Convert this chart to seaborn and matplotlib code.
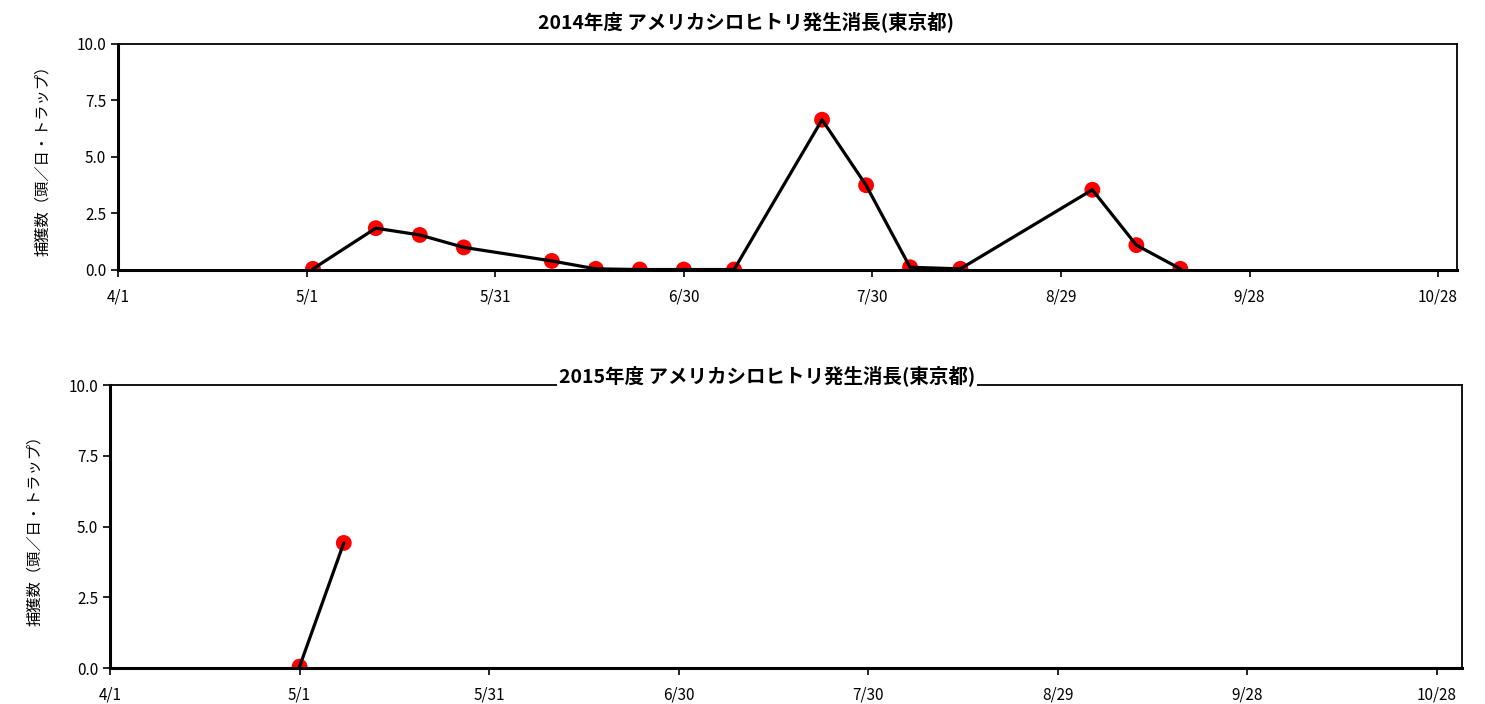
import pandas as pd
import numpy as np
import matplotlib
matplotlib.use("Agg")
import matplotlib.pyplot as plt
import matplotlib.dates as mdates
from matplotlib.ticker import FuncFormatter, FixedLocator
import seaborn as sns

# %% data

dates_2014 = ["2014-05-02", "2014-05-12", "2014-05-19", "2014-05-26", "2014-06-09",
              "2014-06-16", "2014-06-23", "2014-06-30", "2014-07-08", "2014-07-22",
              "2014-07-29", "2014-08-05", "2014-08-13", "2014-09-03", "2014-09-10",
              "2014-09-17"]
counts_2014 = [0.05, 1.85, 1.55, 1.0, 0.4, 0.05, 0.02, 0.02, 0.02, 6.65, 3.75,
               0.12, 0.05, 3.55, 1.1, 0.05]

dates_2015 = ["2015-05-01", "2015-05-08"]
counts_2015 = [0.05, 4.42]

titles = ["2014年度 アメリカシロヒトリ発生消長(東京都)",
          "2015年度 アメリカシロヒトリ発生消長(東京都)"]
ylabel = "捕獲数（頭／日・トラップ）"
yticks = [0.0, 2.5, 5.0, 7.5, 10.0]

# %% style

sns.set_style("white")
plt.rcParams['font.family'] = ['Noto Sans CJK JP', 'DejaVu Sans']

fig = plt.figure(figsize=(14.85, 7.04), dpi=100)
ax1 = fig.add_axes([0.0795, 0.6165, 0.9016, 0.3210])
ax2 = fig.add_axes([0.0741, 0.0511, 0.9104, 0.4020])


def draw(ax, dates, counts, year, end_day, title, title_xy, box):
    df = pd.DataFrame({"date": pd.to_datetime(dates), "count": counts})
    sns.scatterplot(data=df, x="date", y="count", ax=ax, color="red", s=130,
                    edgecolor="none", zorder=2)
    sns.lineplot(data=df, x="date", y="count", ax=ax, color="black", lw=2.3,
                 zorder=3)

    start = pd.Timestamp(f"{year}-04-01")
    ax.set_xlim(start, start + pd.Timedelta(days=end_day))
    ax.set_ylim(0, 10)
    ticks = [start + pd.Timedelta(days=30 * i) for i in range(8)]
    ax.xaxis.set_major_locator(FixedLocator(mdates.date2num(ticks)))
    ax.xaxis.set_major_formatter(FuncFormatter(
        lambda v, p: f"{mdates.num2date(v).month}/{mdates.num2date(v).day}"))
    ax.set_yticks(yticks)
    ax.yaxis.set_major_formatter(FuncFormatter(lambda v, p: f"{v:.1f}"))
    ax.tick_params(axis="both", direction="out", length=5, width=1.2,
                   labelsize=11, colors="black", bottom=True, left=True)
    ax.tick_params(axis="x", pad=8)
    for side in ["left", "bottom"]:
        ax.spines[side].set_linewidth(2.2)
        ax.spines[side].set_color("black")
    for side in ["top", "right"]:
        ax.spines[side].set_linewidth(1.3)
        ax.spines[side].set_color("black")
    ax.set_xlabel("")
    ax.set_ylabel(ylabel, fontsize=11, labelpad=18, color="black")
    kw = {}
    if box:
        kw["bbox"] = dict(facecolor="white", edgecolor="none", pad=1.5)
    ax.text(title_xy[0], title_xy[1], title, transform=ax.transAxes,
            ha="center", va="center", fontsize=14, fontweight="bold",
            color="black", **kw)


draw(ax1, dates_2014, counts_2014, 2014, 213, titles[0], (0.469, 1.097), False)
draw(ax2, dates_2015, counts_2015, 2015, 214, titles[1], (0.486, 1.033), True)

fig.savefig("out.png", dpi=100)
